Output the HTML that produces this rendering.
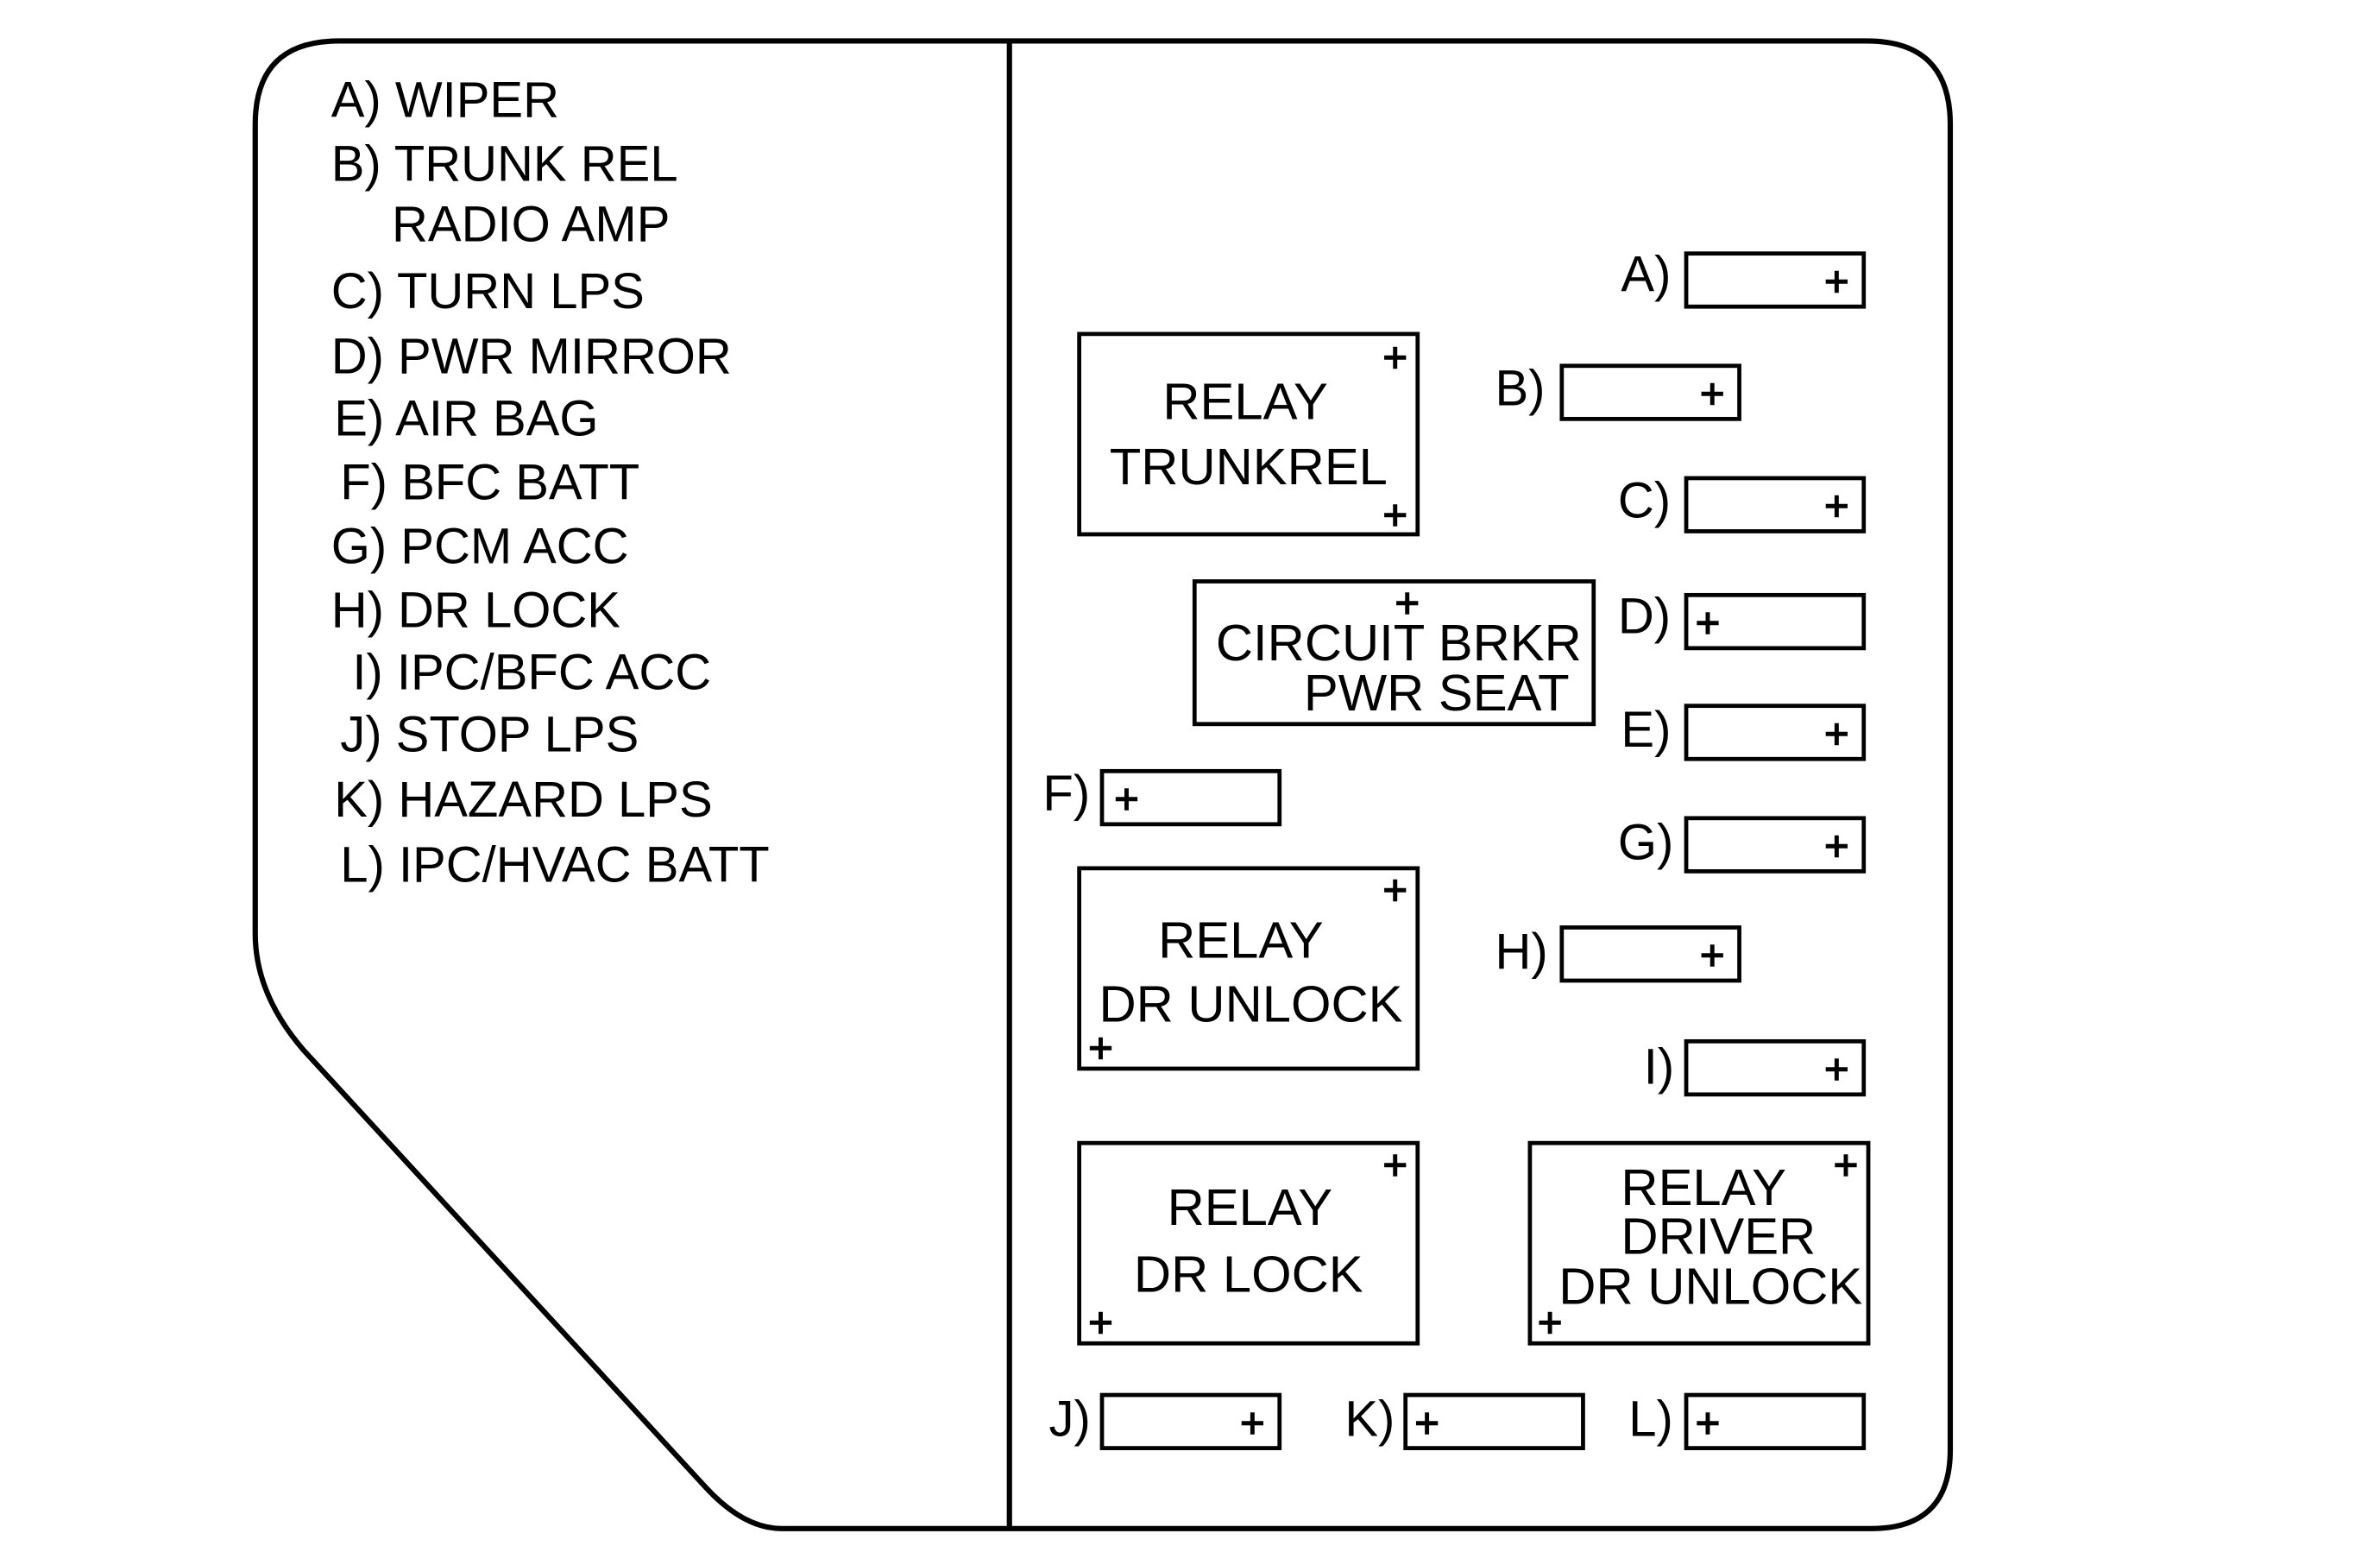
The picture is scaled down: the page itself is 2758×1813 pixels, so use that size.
<!DOCTYPE html>
<html><head><meta charset="utf-8"><style>
html,body{margin:0;padding:0;background:#fff;}
svg{display:block;}
text{font-family:"Liberation Sans",Arial,sans-serif;fill:#000;}
.l{font-size:33px;}
.b{font-size:34px;}
.p{font-size:28px;stroke:#000;stroke-width:0.8;}
</style></head><body>
<svg width="2758" height="1813" viewBox="0 0 1568 1031" xmlns="http://www.w3.org/2000/svg">
<g fill="none" stroke="#000" stroke-width="3.5">
<path d="M223 27 L1230 27 Q1285 27 1285 82 L1285 955 Q1285 1007 1233 1007 L515 1007 Q490 1007 465 980 L200 692 Q168 655 168 615 L168 82 Q168 27 223 27 Z"/>
<line x1="665" y1="27" x2="665" y2="1007"/>
<g stroke-width="2.7">
<rect x="1111" y="167" width="117" height="35"/>
<rect x="1029" y="241" width="117" height="35"/>
<rect x="1111" y="315" width="117" height="35"/>
<rect x="1111" y="392" width="117" height="35"/>
<rect x="1111" y="465" width="117" height="35"/>
<rect x="726" y="508" width="117" height="35"/>
<rect x="1111" y="539" width="117" height="35"/>
<rect x="1029" y="611" width="117" height="35"/>
<rect x="1111" y="686" width="117" height="35"/>
<rect x="726" y="919" width="117" height="35"/>
<rect x="926" y="919" width="117" height="35"/>
<rect x="1111" y="919" width="117" height="35"/>
<rect x="711" y="220" width="223" height="132"/>
<rect x="787" y="383" width="263" height="94"/>
<rect x="711" y="572" width="223" height="132"/>
<rect x="711" y="753" width="223" height="132"/>
<rect x="1008" y="753" width="223" height="132"/>
</g>
</g>
<g class="l">
<text x="218" y="77">A) WIPER</text>
<text x="218" y="119">B) TRUNK REL</text>
<text x="258" y="159">RADIO AMP</text>
<text x="218" y="203">C) TURN LPS</text>
<text x="218" y="246">D) PWR MIRROR</text>
<text x="220" y="287">E) AIR BAG</text>
<text x="224" y="329">F) BFC BATT</text>
<text x="218" y="371">G) PCM ACC</text>
<text x="218" y="413">H) DR LOCK</text>
<text x="232" y="454">I) IPC/BFC ACC</text>
<text x="224" y="495">J) STOP LPS</text>
<text x="220" y="538">K) HAZARD LPS</text>
<text x="224" y="581">L) IPC/HVAC BATT</text>
<text x="1068" y="192">A)</text>
<text x="985" y="267">B)</text>
<text x="1066" y="341">C)</text>
<text x="1066" y="417">D)</text>
<text x="1068" y="492">E)</text>
<text x="687" y="534">F)</text>
<text x="1066" y="566">G)</text>
<text x="985" y="638">H)</text>
<text x="1083" y="714">I)</text>
<text x="691" y="946">J)</text>
<text x="886" y="946">K)</text>
<text x="1073" y="946">L)</text>
</g>
<g class="b">
<text x="766" y="276">RELAY</text>
<text x="731" y="319">TRUNKREL</text>
<text x="801" y="435">CIRCUIT BRKR</text>
<text x="859" y="468">PWR SEAT</text>
<text x="763" y="631">RELAY</text>
<text x="724" y="673">DR UNLOCK</text>
<text x="769" y="807">RELAY</text>
<text x="747" y="851">DR LOCK</text>
<text x="1068" y="794">RELAY</text>
<text x="1068" y="826">DRIVER</text>
<text x="1027" y="859">DR UNLOCK</text>
</g>
<g class="p">
<text x="1202" y="195">+</text>
<text x="1120" y="269">+</text>
<text x="1202" y="343">+</text>
<text x="1117" y="420">+</text>
<text x="1202" y="493">+</text>
<text x="734" y="536">+</text>
<text x="1202" y="567">+</text>
<text x="1120" y="639">+</text>
<text x="1202" y="714">+</text>
<text x="817" y="947">+</text>
<text x="932" y="947">+</text>
<text x="1117" y="947">+</text>
<text x="911" y="245">+</text>
<text x="911" y="349">+</text>
<text x="919" y="407">+</text>
<text x="911" y="596">+</text>
<text x="717" y="700">+</text>
<text x="911" y="777">+</text>
<text x="717" y="881">+</text>
<text x="1208" y="777">+</text>
<text x="1013" y="881">+</text>
</g>
</svg>
</body></html>
